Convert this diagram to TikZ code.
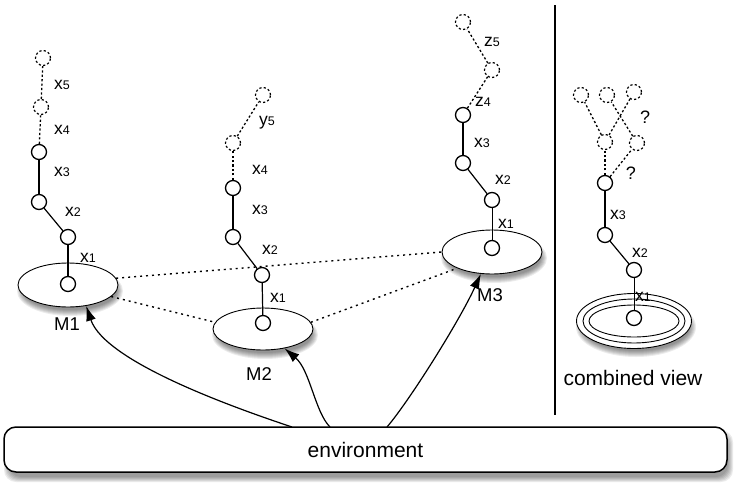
\documentclass[tikz,border=0pt]{standalone}
\usepackage{fontspec}
\setmainfont{Liberation Sans}
\usetikzlibrary{shapes.geometric,arrows.meta}
\newcommand\vx[2]{{\fontsize{17.5}{17.5}\selectfont #1}{\fontsize{12.5}{12.5}\selectfont #2}}
\newcommand\eshadow[4]{\foreach \k in {0,...,6}{\fill[black,opacity=0.075] (#1,#2) ellipse [x radius={(#3+3-\k)*1pt}, y radius={(#4+3-\k)*1pt}];}}
\begin{document}
\begin{tikzpicture}[x=1pt,y=-1pt,
  ball/.style={circle,draw,line width=1.3pt,minimum size=15pt,inner sep=0pt,fill=white},
  ghost/.style={circle,draw,line width=1.2pt,dash pattern=on 2.2pt off 2.2pt,minimum size=15pt,inner sep=0pt},
  link/.style={line width=1.2pt},
  glink/.style={line width=1.3pt,dash pattern=on 2.2pt off 2.2pt},
  plate/.style={ellipse,draw,line width=0.9pt,fill=white,minimum width=100pt,minimum height=44pt,inner sep=0pt},
  mlab/.style={font=\fontsize{18.5}{18.5}\selectfont,inner sep=0pt},
  big/.style={font=\fontsize{21}{21}\selectfont,inner sep=0pt},
  vlab/.style={inner sep=0pt},
  peer/.style={line width=1.4pt,dash pattern=on 2pt off 4pt},
  feed/.style={line width=1.2pt,-{Latex[length=15pt,width=10pt]}},
]
\useasboundingbox (0,0) rectangle (737,485);

% ---------- shadows ----------
\eshadow{70}{291}{50}{22}
\eshadow{265}{335}{50}{21}
\eshadow{494}{258}{50}{22}
\eshadow{636}{327}{57}{27}
\foreach \k in {0,...,5}{\fill[black,opacity=0.08,rounded corners=12pt] ({4+\k},{430+\k}) rectangle ({733-\k},{482-\k});}

% ---------- environment ----------
\node[draw,line width=1.5pt,rounded corners=12pt,fill=white,minimum width=723pt,minimum height=45pt,big] (env) at (365.5,449.5) {environment};

% ---------- M1 ----------
\node[plate] (M1) at (68,285) {};
\node[ball] (a0) at (68,284) {};
\node[ball] (a1) at (68,237) {};
\node[ball] (a2) at (39,202) {};
\node[ball] (a3) at (39,152) {};
\node[ghost] (a4) at (41,107) {};
\node[ghost] (a5) at (43,58) {};
\draw[link] (a0) -- (a1);
\draw[link] (a1) -- (a2);
\draw[link] (a2) -- (a3);
\draw[glink] (a3) -- (a4);
\draw[glink] (a4) -- (a5);
\node[vlab] (la1) at (88,258) {\vx{x}{1}};
\node[vlab] (la2) at (73,212) {\vx{x}{2}};
\node[vlab] (la3) at (62,172) {\vx{x}{3}};
\node[vlab] (la4) at (62,130) {\vx{x}{4}};
\node[vlab] (la5) at (62,85) {\vx{x}{5}};
\node[mlab] (m1) at (67,324) {M1};

% ---------- M2 ----------
\node[plate,minimum height=42pt] (M2) at (263,329) {};
\node[ball] (b0) at (263,323) {};
\node[ball] (b1) at (262,275) {};
\node[ball] (b2) at (233,237) {};
\node[ball] (b3) at (233,188) {};
\node[ghost] (b4) at (233,143) {};
\node[ghost] (b5) at (263,95) {};
\draw[link] (b0) -- (b1);
\draw[link] (b1) -- (b2);
\draw[link] (b2) -- (b3);
\draw[glink] (b3) -- (b4);
\draw[glink] (b4) -- (b5);
\node[vlab] (lb1) at (278,298) {\vx{x}{1}};
\node[vlab] (lb2) at (270,250) {\vx{x}{2}};
\node[vlab] (lb3) at (260,210) {\vx{x}{3}};
\node[vlab] (lb4) at (260,170) {\vx{x}{4}};
\node[vlab] (lb5) at (267,123) {\vx{y}{5}};
\node[mlab] (m2) at (259,374) {M2};

% ---------- M3 ----------
\node[plate] (M3) at (492,252) {};
\node[ball] (c0) at (492,248) {};
\node[ball] (c1) at (492,200) {};
\node[ball] (c2) at (463,163) {};
\node[ball] (c3) at (463,115) {};
\node[ghost] (c4) at (492,70) {};
\node[ghost] (c5) at (463,22) {};
\draw[line width=0.9pt] (c0) -- (c1);
\draw[link] (c1) -- (c2);
\draw[link] (c2) -- (c3);
\draw[glink] (c3) -- (c4);
\draw[glink] (c4) -- (c5);
\node[vlab] (lc1) at (506,224) {\vx{x}{1}};
\node[vlab] (lc2) at (503,180) {\vx{x}{2}};
\node[vlab] (lc3) at (482,143) {\vx{x}{3}};
\node[vlab] (lc4) at (483,102) {\vx{z}{4}};
\node[vlab] (lc5) at (492,42) {\vx{z}{5}};
\node[mlab] (m3) at (490,295) {M3};

% ---------- peer links ----------
\draw[peer] (M1.8) -- (M3.180);
\draw[peer] (M1.-15) -- (M2.172);
\draw[peer] (M2.8) -- (M3.-155);

% ---------- feeds from environment ----------
\coordinate (s1) at (292,427);
\coordinate (s2) at (330,427);
\coordinate (s3) at (387,427);
\draw[feed] (s1) .. controls (235,408) and (105,362) .. (M1.-49);
\draw[feed] (s2) .. controls (315,412) and (310,370) .. (M2.-42);
\draw[feed] (s3) .. controls (410,400) and (460,320) .. (M3.-117);

% ---------- separator ----------
\coordinate (v1) at (555,5);
\coordinate (v2) at (555,415);
\draw[line width=1.3pt] (v1) -- (v2);

% ---------- combined view ----------
\node[plate,minimum width=115pt,minimum height=55pt] (CV) at (634,321) {};
\draw[line width=0.9pt] (CV.center) ellipse [x radius=51pt, y radius=22pt];
\draw[line width=0.9pt] (CV.center) ellipse [x radius=45pt, y radius=16pt];
\node[ball] (d0) at (634,318) {};
\node[ball] (d1) at (634,270) {};
\node[ball] (d2) at (605,235) {};
\node[ball] (d3) at (605,183) {};
\node[ghost] (g1) at (605,142) {};
\node[ghost] (g2) at (637,143) {};
\node[ghost] (g3) at (581,95) {};
\node[ghost] (g4) at (607,95) {};
\node[ghost] (g5) at (634,92) {};
\draw[line width=0.9pt] (d0) -- (d1);
\draw[link] (d1) -- (d2);
\draw[link] (d2) -- (d3);
\draw[glink] (d3) -- (g1);
\draw[glink] (d3) -- (g2);
\draw[glink] (g1) -- (g3);
\draw[glink] (g1) -- (g5);
\draw[glink] (g2) -- (g4);
\node[vlab] (ld1) at (643,297) {\vx{x}{1}};
\node[vlab] (ld2) at (640,253) {\vx{x}{2}};
\node[vlab] (ld3) at (618,215) {\vx{x}{3}};
\node[vlab,font=\fontsize{18}{18}\selectfont] (q1) at (645,117) {?};
\node[vlab,font=\fontsize{18}{18}\selectfont] (q2) at (631,173) {?};
\node[big] (cvl) at (633,378) {combined view};
\end{tikzpicture}
\end{document}
